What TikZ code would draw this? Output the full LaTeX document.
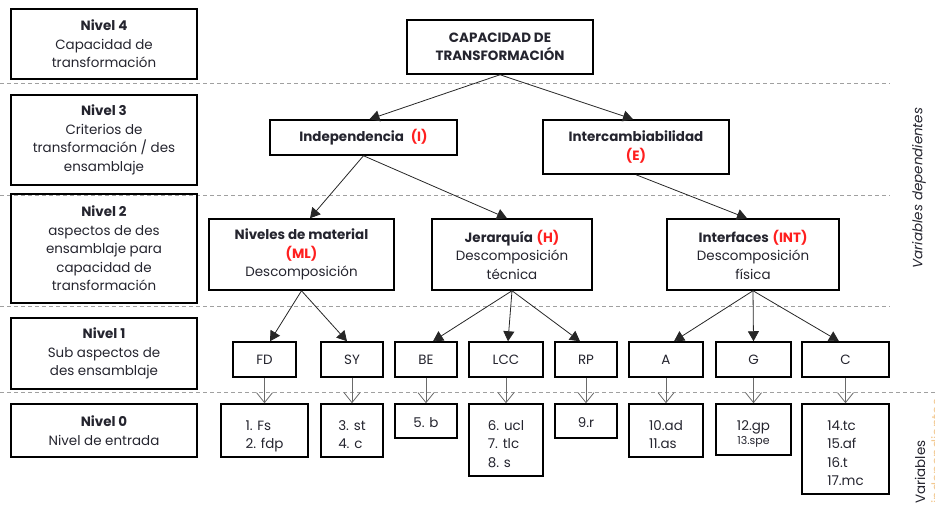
\documentclass[tikz,border=0pt]{standalone}
\usepackage{fontspec}
\setmainfont{Poppins}
\usetikzlibrary{arrows.meta}
\definecolor{txt}{HTML}{24242E}
\definecolor{hl}{HTML}{FF1F1F}
\definecolor{guide}{HTML}{A0A0A0}
\definecolor{feed}{HTML}{6A6A6A}
\definecolor{side}{HTML}{F2C890}
\newcommand{\hl}[1]{\textcolor{hl}{\textbf{#1}}}

\tikzset{
  basefont/.style={font=\fontsize{13.5}{18.5}\selectfont, text=txt},
  box/.style={basefont, draw=black, line width=1.5pt, inner sep=0pt, align=center},
  itemtext/.style={basefont, inner sep=0pt, align=left, anchor=north},
  guideline/.style={draw=guide, line width=0.8pt, dash pattern=on 4bp off 3bp},
  arr/.style={draw=black!85, line width=0.8pt, -{Triangle[length=10bp,width=11bp]}},
  feedarr/.style={draw=feed, line width=0.9pt, -{Straight Barb[length=10bp,width=16bp,line width=0.8pt]}},
  sidelabel/.style={basefont, rotate=90, inner sep=0pt}
}

\begin{document}
\begin{tikzpicture}[x=1bp,y=-1bp]
\useasboundingbox (0,0) rectangle (935,506);

% level separators
\draw[guideline] (0,83) -- (890,83);
\draw[guideline] (0,195) -- (890,195);
\draw[guideline] (0,306) -- (890,306);
\draw[guideline] (0,392) -- (935,392);

% level captions
\node[box, minimum width=186bp, minimum height=70bp] (n4) at (104,44) {\textbf{Nivel 4}\\Capacidad de\\transformación};
\node[box, minimum width=186bp, minimum height=90bp] (n3) at (104,140) {\textbf{Nivel 3}\\Criterios de\\transformación / des\\ensamblaje};
\node[box, minimum width=186bp, minimum height=109bp] (n2) at (104,248.5) {\textbf{Nivel 2}\\aspectos de des\\ensamblaje para\\capacidad de\\transformación};
\node[box, minimum width=186bp, minimum height=71bp] (n1) at (104,353.5) {\textbf{Nivel 1}\\Sub aspectos de\\des ensamblaje};
\node[box, minimum width=186bp, minimum height=53bp] (n0) at (104,430.5) {\textbf{Nivel 0}\\Nivel de entrada};

% level 4 and 3
\node[box, minimum width=186bp, minimum height=54bp] (cap) at (500,47) {\textbf{CAPACIDAD DE}\\\textbf{TRANSFORMACIÓN}};
\node[box, minimum width=187bp, minimum height=35bp] (ind) at (363.5,137.5) {\textbf{Independencia}\hspace{0.5em}\hl{(I)}};
\node[box, minimum width=186bp, minimum height=54bp] (itc) at (636,147) {\textbf{Intercambiabilidad}\\\hl{(E)}};

% level 2
\node[box, minimum width=185bp, minimum height=71bp] (ml) at (301.5,254.5) {\textbf{Niveles de material}\\\hl{(ML)}\\Descomposición};
\node[box, minimum width=160bp, minimum height=71bp] (jer) at (512,254.5) {\textbf{Jerarquía} \hl{(H)}\\Descomposición\\técnica};
\node[box, minimum width=172bp, minimum height=71bp] (inf) at (753,254.5) {\textbf{Interfaces} \hl{(INT)}\\Descomposición\\física};

% level 1
\node[box, minimum width=63bp, minimum height=35bp] (fd) at (264.5,359.5) {FD};
\node[box, minimum width=62bp, minimum height=35bp] (sy) at (352,359.5) {SY};
\node[box, minimum width=62bp, minimum height=35bp] (be) at (426,359.5) {BE};
\node[box, minimum width=74bp, minimum height=35bp] (lcc) at (506,359.5) {LCC};
\node[box, minimum width=62bp, minimum height=35bp] (rp) at (586,359.5) {RP};
\node[box, minimum width=74bp, minimum height=35bp] (a) at (666,359.5) {A};
\node[box, minimum width=75bp, minimum height=35bp] (g) at (753.5,359.5) {G};
\node[box, minimum width=87bp, minimum height=35bp] (c) at (845.5,359.5) {C};

% level 0 boxes
\node[box, minimum width=87bp, minimum height=53bp] (fd0) at (264.5,430.5) {};
\node[box, minimum width=62bp, minimum height=53bp] (sy0) at (352,430.5) {};
\node[box, minimum width=62bp, minimum height=34bp] (be0) at (426,421) {};
\node[box, minimum width=74bp, minimum height=72bp] (lcc0) at (506,440) {};
\node[box, minimum width=62bp, minimum height=34bp] (rp0) at (586,421) {};
\node[box, minimum width=74bp, minimum height=53bp] (a0) at (666,430.5) {};
\node[box, minimum width=75bp, minimum height=51bp] (g0) at (753.5,429.5) {};
\node[box, minimum width=87bp, minimum height=90bp] (c00) at (845.5,449) {};

% level 0 contents
\node[itemtext] (fdt) at ([yshift=-17bp]fd0.north) {1. Fs\\2. fdp};
\node[itemtext] (syt) at ([yshift=-17bp]sy0.north) {3. st\\4. c};
\node[basefont, inner sep=0pt] (bet) at ([yshift=-2bp]be0.center) {5. b};
\node[itemtext] (lcct) at ([yshift=-17bp]lcc0.north) {6. ucl\\7. tlc\\8. s};
\node[basefont, inner sep=0pt] (rpt) at ([yshift=-2bp]rp0.center) {9.r};
\node[itemtext] (at) at ([yshift=-17bp]a0.north) {10.ad\\11.as};
\node[itemtext, align=center] (gt) at ([yshift=-17bp]g0.north) {12.gp\\[-4bp]{\fontsize{11}{14}\selectfont 13.spe}};
\node[itemtext] (ct) at ([yshift=-17bp]c00.north) {14.tc\\15.af\\16.t\\17.mc};

% hierarchy arrows
\draw[arr] (cap.south) -- ([xshift=6bp]ind.north);
\draw[arr] (cap.south) -- ([xshift=-3bp]itc.north);
\draw[arr] (ind.south) -- ([xshift=8.5bp]ml.north);
\draw[arr] (ind.south) -- ([xshift=-5bp]jer.north);
\draw[arr] (itc.south) -- ([xshift=-6bp]inf.north);
\draw[arr] (ml.south) -- ([xshift=5.5bp]fd.north);
\draw[arr] (ml.south) -- ([xshift=-5bp]sy.north);
\draw[arr] (jer.south) -- ([xshift=7bp]be.north);
\draw[arr] (jer.south) -- ([xshift=2bp]lcc.north);
\draw[arr] (jer.south) -- ([xshift=-6bp]rp.north);
\draw[arr] (inf.south) -- ([xshift=8bp]a.north);
\draw[arr] (inf.south) -- (g.north);
\draw[arr] (inf.south) -- ([xshift=-6.5bp]c.north);

% inputs feeding the sub aspects
\draw[feedarr] (fd.south) -- (fd0.north);
\draw[feedarr] (sy.south) -- (sy0.north);
\draw[feedarr] (be.south) -- (be0.north);
\draw[feedarr] (lcc.south) -- (lcc0.north);
\draw[feedarr] (rp.south) -- (rp0.north);
\draw[feedarr] (a.south) -- (a0.north);
\draw[feedarr] (g.south) -- (g0.north);
\draw[feedarr] (c.south) -- (c00.north);

% side captions
\node[sidelabel, font=\fontsize{13.5}{18.5}\selectfont\itshape] (dep) at (919,188) {Variables dependientes};
\node[sidelabel, anchor=west] (indep) at (920,504) {Variables};
\node[sidelabel, anchor=west, text=side] (indep2) at (938,504) {independientes};
\end{tikzpicture}
\end{document}
